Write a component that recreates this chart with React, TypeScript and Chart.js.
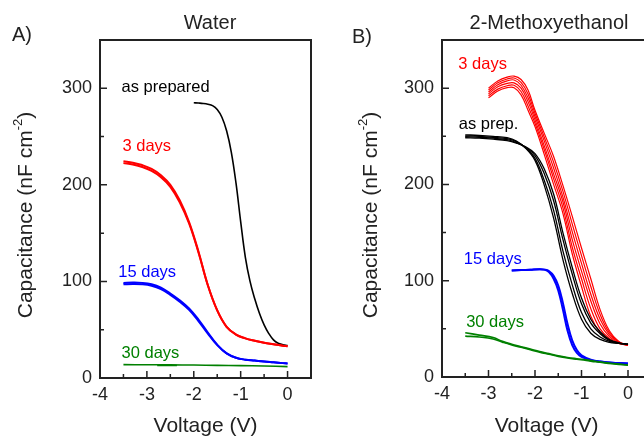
import React, { useEffect, useRef } from "react";
import { Chart, registerables } from "chart.js";

Chart.register(...registerables);

const FONT = "'Liberation Sans', Arial, Helvetica, sans-serif";
const INK = "#222";
const RED = "#ff0000";
const BLUE = "#0000ff";
const GREEN = "#008000";
const BLACK = "#000000";

// Axis ticks shared by both panels
const voltageTicks = [-4, -3, -2, -1, 0];
const voltageMinorTicks = [-3.5, -2.5, -1.5, -0.5];
const capTicks = [0, 100, 200, 300];
const capMinorTicks = [50, 150, 250];

// ---- Panel A: water ----
const waterPrepV = [-2.0, -1.9, -1.8, -1.7, -1.6, -1.5, -1.4, -1.3, -1.2, -1.1, -1.0, -0.9, -0.8, -0.7, -0.6, -0.5, -0.4, -0.3, -0.2, -0.1, 0];
const waterPrepC = [285, 284.7, 284.3, 283.5, 282, 278, 270, 256, 234, 202, 162, 125, 100, 82, 67, 55, 46, 39.5, 36, 34.5, 33.5];

const waterAgedV = [-3.5, -3.3, -3.1, -2.9, -2.7, -2.5, -2.3, -2.1, -1.9, -1.7, -1.5, -1.3, -1.1, -0.9, -0.7, -0.5, -0.3, -0.1, 0];
const water3dSweep1 = [222.5, 221, 218.5, 214.5, 208, 198, 182, 160, 130, 96, 70, 53, 45, 41, 38.5, 36.5, 35, 33.5, 33];
const water3dSweep2 = [224.5, 223, 220.5, 216.5, 210, 200, 184, 161.5, 131, 96, 70, 53, 45, 41, 38.5, 36.5, 35, 33.5, 33];
const water15dSweep1 = [97, 97.3, 97, 95.5, 92, 86, 79, 70.5, 59, 46, 34, 25.5, 21, 19, 18, 17, 16.2, 15.4, 15];
const water15dSweep2 = [98.5, 98.8, 98.5, 97, 93.5, 87.5, 80.5, 72, 60.5, 47, 34.5, 25.5, 21, 19, 18, 17, 16.2, 15.4, 15];

const water30dV = [-3.5, -3.0, -2.5, -2.0, -1.5, -1.0, -0.5, 0];
const water30dC = [13.8, 13.7, 13.6, 13.4, 13.1, 12.8, 12.4, 11.8];
const water30dShortV = [-2.78, -2.36];
const water30dShortC = [13.0, 13.0];

// ---- Panel B: 2-methoxyethanol ----
const meoPrepV = [-3.5, -3.2, -2.9, -2.6, -2.4, -2.2, -2.0, -1.8, -1.6, -1.4, -1.2, -1.0, -0.8, -0.6, -0.4, -0.2, 0];
const meoPrep1 = [251.5, 251, 250, 248.5, 245, 237.5, 225, 199, 165, 122, 87, 60, 45.5, 39, 36, 35, 34];
const meoPrep2 = [250.5, 250, 249, 247.5, 244.5, 238, 227, 204, 173, 131, 96, 67, 50, 41.5, 37, 35, 34];
const meoPrep3 = [249.5, 249, 248, 246.5, 243.5, 238.5, 230, 211, 183, 143, 107, 76, 56, 45, 38, 35.2, 34];
const meoPrep4 = [248.5, 248, 247, 245.5, 243, 239, 232, 216, 190, 150, 114, 82, 60, 47, 39, 35.5, 34];

const meo3dV = [-3.0, -2.8, -2.6, -2.45, -2.3, -2.15, -2.0, -1.8, -1.6, -1.4, -1.2, -1.0, -0.8, -0.6, -0.4, -0.2, 0];
const meo3d1 = [300, 307.5, 311.5, 312.5, 309, 298, 277, 253, 229, 199, 167, 134, 102, 70, 48, 37, 33];
const meo3d2 = [298, 305.5, 309.5, 310.5, 306, 294, 274, 249, 223, 193, 159, 126, 94, 65, 46, 36.5, 33];
const meo3d3 = [296, 303.5, 307.5, 308.5, 303, 290, 270.5, 245, 217, 187, 151, 118, 86, 60, 44, 36, 33];
const meo3d4 = [294, 301.5, 305, 305.5, 300, 286, 267, 240, 211, 182, 143, 110, 79, 55, 42, 35.5, 33];
const meo3d5 = [292, 299, 302.5, 303, 296.5, 281.5, 263.5, 236, 206, 176, 135, 102, 71, 50, 40, 35, 33];
const meo3d6 = [290, 297, 300.5, 300.5, 293, 277, 260, 231, 200, 170, 128, 94, 63, 46, 38, 35, 33];

const meo15dV = [-2.5, -2.3, -2.1, -1.9, -1.8, -1.7, -1.6, -1.5, -1.4, -1.3, -1.2, -1.1, -1.0, -0.8, -0.6, -0.4, -0.2, 0];
const meo15d1 = [110.5, 111, 111.5, 112, 111.5, 109, 102, 90, 70, 48, 33, 25, 21, 17.5, 16, 15, 14.5, 14];
const meo15d2 = [110.5, 111, 111.5, 112, 111.5, 110, 105, 95, 77, 55, 38, 28, 22.5, 18, 16, 15, 14.5, 14];

const meo30dV = [-3.5, -3.2, -2.9, -2.7, -2.5, -2.3, -2.1, -1.9, -1.7, -1.5, -1.3, -1.1, -0.9, -0.7, -0.5, -0.3, -0.1, 0];
const meo30d1 = [46, 43.5, 41, 37, 34, 31.5, 29, 26.5, 24.3, 22, 20.3, 19, 17.8, 16.3, 15, 14, 13, 12.5];
const meo30d2 = [42.5, 41.5, 39.5, 36.2, 33.2, 30.8, 28.3, 25.8, 23.6, 21.4, 19.7, 18.4, 17.2, 15.8, 14.6, 13.6, 12.7, 12.2];

type Series = { v: number[]; c: number[]; color: string; width: number };
type Note = { text: string; v: number; c: number; color: string };

const waterSeries: Series[] = [
  { v: water30dV, c: water30dC, color: GREEN, width: 1.6 },
  { v: water30dShortV, c: water30dShortC, color: GREEN, width: 1.6 },
  { v: waterAgedV, c: water15dSweep1, color: BLUE, width: 2 },
  { v: waterAgedV, c: water15dSweep2, color: BLUE, width: 2 },
  { v: waterAgedV, c: water3dSweep1, color: RED, width: 2 },
  { v: waterAgedV, c: water3dSweep2, color: RED, width: 2 },
  { v: waterPrepV, c: waterPrepC, color: BLACK, width: 1.6 },
];

const waterNotes: Note[] = [
  { text: "as prepared", v: -3.54, c: 296, color: BLACK },
  { text: "3 days", v: -3.52, c: 235, color: RED },
  { text: "15 days", v: -3.61, c: 104.7, color: BLUE },
  { text: "30 days", v: -3.54, c: 21, color: GREEN },
];

const meoSeries: Series[] = [
  { v: meo30dV, c: meo30d1, color: GREEN, width: 1.6 },
  { v: meo30dV, c: meo30d2, color: GREEN, width: 1.6 },
  { v: meo15dV, c: meo15d1, color: BLUE, width: 2 },
  { v: meo15dV, c: meo15d2, color: BLUE, width: 2 },
  ...[meoPrep1, meoPrep2, meoPrep3, meoPrep4].map((c) => ({ v: meoPrepV, c, color: BLACK, width: 1.3 })),
  ...[meo3d1, meo3d2, meo3d3, meo3d4, meo3d5, meo3d6].map((c) => ({ v: meo3dV, c, color: RED, width: 1.2 })),
];

const meoNotes: Note[] = [
  { text: "3 days", v: -3.65, c: 319.5, color: RED },
  { text: "as prep.", v: -3.64, c: 257.5, color: BLACK },
  { text: "15 days", v: -3.53, c: 117, color: BLUE },
  { text: "30 days", v: -3.48, c: 52, color: GREEN },
];

type PanelProps = {
  left: number;
  width: number;
  axisWidth: number;
  padRight: number;
  xAxisHeight: number;
  series: Series[];
  notes: Note[];
  title: string;
  titleX: number;
  tag: string;
  tagX: number;
  tagY: number;
  yTitleX: number;
};

const HEIGHT = 437;

function Panel(p: PanelProps) {
  const ref = useRef<HTMLCanvasElement | null>(null);

  useEffect(() => {
    if (!ref.current) return;

    const decor = {
      id: "panelDecor",
      afterDraw(chart: any) {
        const { ctx, chartArea: a } = chart;
        const xs = chart.scales.x;
        const ys = chart.scales.y;
        ctx.save();

        // inward tick marks
        ctx.strokeStyle = INK;
        ctx.lineWidth = 1.5;
        ctx.beginPath();
        const tickX = (vals: number[], len: number) =>
          vals.forEach((v) => {
            const px = xs.getPixelForValue(v);
            ctx.moveTo(px, a.bottom);
            ctx.lineTo(px, a.bottom - len);
          });
        const tickY = (vals: number[], len: number) =>
          vals.forEach((c) => {
            const py = ys.getPixelForValue(c);
            ctx.moveTo(a.left, py);
            ctx.lineTo(a.left + len, py);
          });
        tickX(voltageTicks, 7);
        tickX(voltageMinorTicks, 4);
        tickY(capTicks, 7);
        tickY(capMinorTicks, 4);
        ctx.stroke();

        // frame
        ctx.lineWidth = 2;
        ctx.strokeRect(a.left, a.top, a.right - a.left, a.bottom - a.top);

        // curve labels
        ctx.font = `16.5px ${FONT}`;
        ctx.textAlign = "left";
        ctx.textBaseline = "alphabetic";
        p.notes.forEach((n) => {
          ctx.fillStyle = n.color;
          ctx.fillText(n.text, xs.getPixelForValue(n.v), ys.getPixelForValue(n.c));
        });

        // panel title and tag
        ctx.fillStyle = INK;
        ctx.font = `20px ${FONT}`;
        ctx.textAlign = "center";
        ctx.textBaseline = "middle";
        ctx.fillText(p.title, p.titleX, 23);
        ctx.textAlign = "left";
        ctx.fillText(p.tag, p.tagX, p.tagY);

        // x axis title
        ctx.font = `21px ${FONT}`;
        ctx.textAlign = "center";
        ctx.fillText("Voltage (V)", (a.left + a.right) / 2, 426);

        // y axis title with superscript
        ctx.translate(p.yTitleX, 215);
        ctx.rotate(-Math.PI / 2);
        const main = "Capacitance (nF cm";
        const sup = "-2";
        const end = ")";
        ctx.font = `21px ${FONT}`;
        const w1 = ctx.measureText(main).width;
        const w3 = ctx.measureText(end).width;
        ctx.font = `13px ${FONT}`;
        const w2 = ctx.measureText(sup).width;
        const x0 = -(w1 + w2 + w3) / 2;
        ctx.textAlign = "left";
        ctx.textBaseline = "middle";
        ctx.font = `21px ${FONT}`;
        ctx.fillText(main, x0, 0);
        ctx.font = `13px ${FONT}`;
        ctx.fillText(sup, x0 + w1, -8);
        ctx.font = `21px ${FONT}`;
        ctx.fillText(end, x0 + w1 + w2, 0);

        ctx.restore();
      },
    };

    const chart = new Chart(ref.current, {
      type: "line",
      data: {
        datasets: p.series.map((s) => ({
          data: s.v.map((x, i) => ({ x, y: s.c[i] })),
          borderColor: s.color,
          backgroundColor: s.color,
          borderWidth: s.width,
          pointRadius: 0,
          fill: false,
          tension: 0.4,
          borderJoinStyle: "round" as const,
        })),
      },
      options: {
        animation: false,
        responsive: false,
        devicePixelRatio: 1,
        events: [],
        layout: { padding: { top: 40, right: p.padRight, bottom: 0, left: 0 } },
        plugins: {
          legend: { display: false },
          tooltip: { enabled: false },
        },
        scales: {
          x: {
            type: "linear",
            min: -4,
            max: 0.5,
            grid: { display: false, drawTicks: false, tickLength: 0 },
            border: { display: false },
            ticks: {
              font: { family: FONT, size: 18 },
              color: INK,
              padding: 6,
              maxRotation: 0,
              autoSkip: false,
            },
            afterBuildTicks: (s: any) => {
              s.ticks = voltageTicks.map((value) => ({ value }));
            },
            afterFit: (s: any) => {
              s.height = p.xAxisHeight;
            },
          },
          y: {
            type: "linear",
            min: 0,
            max: 350,
            grid: { display: false, drawTicks: false, tickLength: 0 },
            border: { display: false },
            ticks: {
              font: { family: FONT, size: 18 },
              color: INK,
              padding: 8,
              autoSkip: false,
            },
            afterBuildTicks: (s: any) => {
              s.ticks = capTicks.map((value) => ({ value }));
            },
            afterFit: (s: any) => {
              s.width = p.axisWidth;
            },
          },
        },
      },
      plugins: [decor],
    });

    return () => chart.destroy();
  }, []);

  return (
    <canvas
      ref={ref}
      width={p.width}
      height={HEIGHT}
      style={{ position: "absolute", left: p.left, top: 0, width: p.width, height: HEIGHT }}
    />
  );
}

export default function App() {
  return (
    <div
      style={{
        position: "fixed",
        left: 0,
        top: 0,
        width: 644,
        height: HEIGHT,
        overflow: "hidden",
        background: "#ffffff",
      }}
    >
      <Panel
        left={0}
        width={322}
        axisWidth={100}
        padRight={11}
        xAxisHeight={59}
        series={waterSeries}
        notes={waterNotes}
        title="Water"
        titleX={210}
        tag="A)"
        tagX={12}
        tagY={35.5}
        yTitleX={26.5}
      />
      <Panel
        left={322}
        width={340}
        axisWidth={120}
        padRight={10.75}
        xAxisHeight={60}
        series={meoSeries}
        notes={meoNotes}
        title="2-Methoxyethanol"
        titleX={227}
        tag="B)"
        tagX={30}
        tagY={37}
        yTitleX={49}
      />
    </div>
  );
}
